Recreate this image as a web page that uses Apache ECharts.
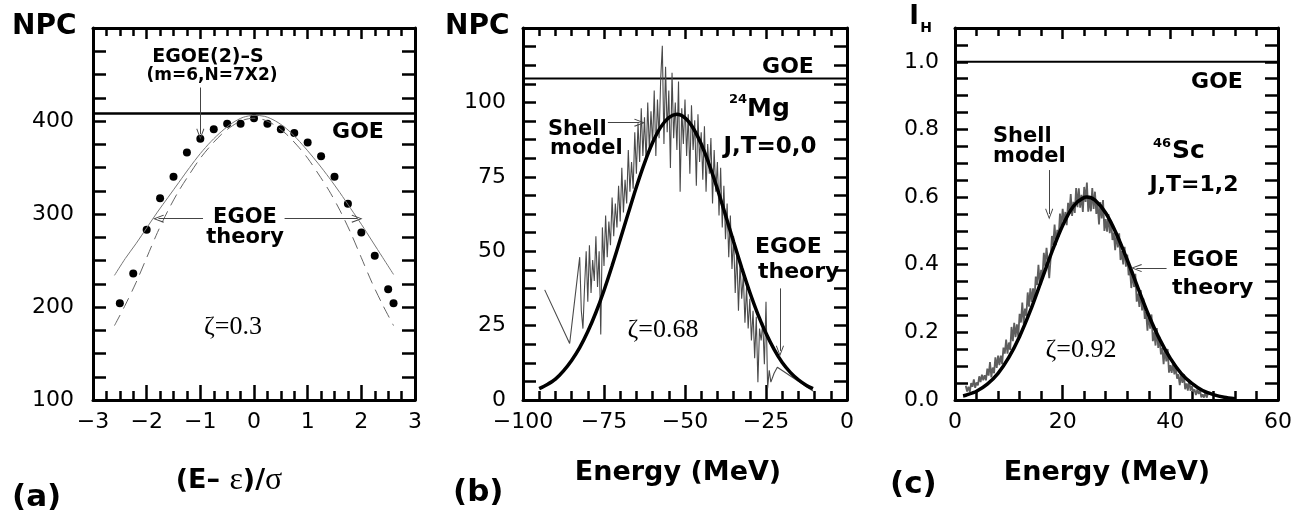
<!DOCTYPE html>
<html>
<head>
<meta charset="utf-8">
<script src="https://cdn.jsdelivr.net/npm/echarts@6/dist/echarts.min.js"></script>
<style>
  html, body { margin: 0; background: #fff; }
  #chart { width: 1309px; height: 518px; }
</style>
</head>
<body>
<div id="chart"></div>
<script>
// ---- panel (a): EGOE(2)-S, NPC vs (E-eps)/sigma
const aDotX = [-2.5, -2.25, -2, -1.75, -1.5, -1.25, -1, -0.75, -0.5, -0.25, 0, 0.25, 0.5, 0.75, 1, 1.25, 1.5, 1.75, 2, 2.25, 2.5, 2.6];
const aDotY = [204, 236, 283, 317, 340, 366, 381, 391, 397, 397, 403, 397, 391, 387, 377, 362, 340, 311, 280, 255, 219, 204];
const aCurveX = [-2.6, -2.4, -2.2, -2, -1.8, -1.6, -1.4, -1.2, -1, -0.8, -0.6, -0.4, -0.2, 0, 0.2, 0.4, 0.6, 0.8, 1, 1.2, 1.4, 1.6, 1.8, 2, 2.2, 2.4, 2.6];
const aSolidY = [234, 252, 268, 285, 302, 318, 334, 350, 365, 378, 389, 398, 404, 406, 405, 400, 392, 381, 368, 354, 339, 323, 306, 289, 271, 253, 235];
const aDashY = [180, 202, 226, 253, 280, 304, 325, 343, 360, 374, 386, 395, 401, 403, 401, 395, 386, 374, 360, 343, 325, 304, 280, 253, 226, 202, 180];
const aGoe = 408;

// ---- panel (b): 24Mg, NPC vs energy
const bTheoryX = [-95, -92.5, -90, -87.5, -85, -82.5, -80, -77.5, -75, -72.5, -70, -67.5, -65, -62.5, -60, -57.5, -55, -52.5, -50, -47.5, -45, -42.5, -40, -37.5, -35, -32.5, -30, -27.5, -25, -22.5, -20, -17.5, -15, -12.5, -10.5];
const bTheoryY = [3.8, 5.2, 7.0, 9.8, 13.3, 17.6, 23.0, 29.4, 36.8, 45.1, 53.9, 62.8, 71.6, 79.6, 86.5, 91.7, 94.9, 96.0, 94.8, 91.4, 86.0, 79.0, 70.9, 62.1, 53.2, 44.4, 36.2, 28.8, 22.4, 17.0, 12.6, 9.3, 6.8, 4.9, 3.8];
const bLeadX = [-93.3, -85.6, -82.5];
const bLeadY = [37, 19, 48];
const bShellStart = -82, bShellStep = 0.5;
const bShellY = [
  30, 24, 38, 50, 33, 52, 36, 47,
  40, 55, 38, 50, 22, 58, 45, 62,
  48, 60, 52, 68, 55, 66, 58, 72,
  60, 78, 63, 74, 66, 84, 70, 80,
  71, 90, 76, 93, 80, 98, 82, 95,
  80, 100, 84, 97, 86, 104, 82, 101,
  88, 108, 119, 86, 112, 90, 104, 78,
  110, 88, 100, 84, 107, 70, 98, 86,
  101, 82, 96, 76, 99, 84, 94, 72,
  96, 80, 90, 74, 92, 70, 86, 76,
  88, 66, 84, 70, 80, 62, 78, 58,
  72, 54, 66, 48, 62, 44, 55, 36,
  50, 30, 46, 34, 42, 26, 38, 24,
  34, 20, 30, 14, 28, 6, 24, 20,
  26, 12, 33, 4, 10
];
const bTailX = [-23.5, -22.5, -21.5, -10.5];
const bTailY = [6, 9, 11, 3];
const bGoe = 108;

// ---- panel (c): 46Sc, I_H vs energy
const cTheoryX = [1.5, 2, 4, 6, 8, 10, 12, 14, 16, 18, 20, 22, 24, 24.5, 26, 28, 30, 32, 34, 36, 38, 40, 42, 44, 46, 48, 50, 52];
const cTheoryY = [0.012, 0.014, 0.026, 0.047, 0.079, 0.126, 0.188, 0.264, 0.351, 0.438, 0.516, 0.573, 0.599, 0.600, 0.591, 0.553, 0.491, 0.414, 0.331, 0.250, 0.180, 0.123, 0.079, 0.049, 0.028, 0.016, 0.008, 0.004];
const cShellStart = 2, cShellStep = 0.25;
const cShellY = [
  0.042, 0.025, 0.039, 0.024, 0.050, 0.039, 0.061, 0.036,
  0.052, 0.043, 0.070, 0.053, 0.075, 0.058, 0.073, 0.058,
  0.093, 0.072, 0.112, 0.067, 0.096, 0.079, 0.126, 0.095,
  0.131, 0.103, 0.131, 0.106, 0.155, 0.137, 0.179, 0.137,
  0.170, 0.148, 0.216, 0.174, 0.228, 0.186, 0.224, 0.187,
  0.255, 0.229, 0.288, 0.226, 0.270, 0.249, 0.318, 0.276,
  0.330, 0.290, 0.330, 0.295, 0.365, 0.340, 0.400, 0.340,
  0.385, 0.365, 0.435, 0.395, 0.450, 0.410, 0.360, 0.415,
  0.485, 0.459, 0.519, 0.458, 0.503, 0.482, 0.551, 0.511,
  0.565, 0.521, 0.556, 0.517, 0.583, 0.553, 0.609, 0.544,
  0.586, 0.553, 0.627, 0.570, 0.626, 0.569, 0.607, 0.556,
  0.630, 0.586, 0.643, 0.557, 0.596, 0.558, 0.627, 0.565,
  0.616, 0.550, 0.580, 0.519, 0.585, 0.537, 0.591, 0.500,
  0.535, 0.498, 0.550, 0.493, 0.530, 0.473, 0.495, 0.443,
  0.495, 0.451, 0.493, 0.414, 0.440, 0.401, 0.453, 0.394,
  0.430, 0.369, 0.388, 0.331, 0.380, 0.334, 0.373, 0.291,
  0.315, 0.275, 0.325, 0.265, 0.300, 0.240, 0.260, 0.205,
  0.255, 0.211, 0.253, 0.174, 0.200, 0.161, 0.213, 0.154,
  0.187, 0.135, 0.154, 0.106, 0.153, 0.114, 0.151, 0.081,
  0.103, 0.080, 0.111, 0.076, 0.098, 0.063, 0.076, 0.044,
  0.075, 0.051, 0.077, 0.032, 0.049, 0.028, 0.060, 0.027,
  0.041, 0.024, 0.031, 0.015, 0.031, 0.018, 0.031, 0.008,
  0.017, 0.007, 0.023, 0.007, 0.019
];
const cGoe = 1.0;

const zip = (xs, ys) => xs.map((x, i) => [x, ys[i]]);
const steps = (x0, dx, ys) => ys.map((y, i) => [+(x0 + i * dx).toFixed(2), y]);

const SANS = '"DejaVu Sans", sans-serif';
const SERIF = '"Liberation Serif", "DejaVu Serif", serif';
const minus = v => (v < 0 ? '\u2212' + (-v) : String(v));
const chevron = 'path://M5,0L10,11L9,11.6L5,2.6L1,11.6L0,11Z';

const tick = (len) => ({ show: true, inside: true, length: len, lineStyle: { color: '#000', width: 2.5 } });
const minor = (n, len) => ({ show: true, splitNumber: n, length: len, lineStyle: { color: '#000', width: 2.5 } });
const line = { show: true, onZero: false, lineStyle: { color: '#000', width: 3 } };

function xPair(g, min, max, interval, split, fmt) {
  return [
    { type: 'value', gridIndex: g, position: 'bottom', min, max, interval,
      axisLine: line, axisTick: tick(15), minorTick: minor(split, 9), splitLine: { show: false },
      axisLabel: { color: '#000', fontFamily: SANS, fontSize: 22, margin: 11, formatter: fmt } },
    { type: 'value', gridIndex: g, position: 'top', min, max, interval,
      axisLine: line, axisTick: tick(11), minorTick: minor(split, 8), splitLine: { show: false },
      axisLabel: { show: false } }
  ];
}
function yPair(g, min, max, interval, split, fmt, margin) {
  return [
    { type: 'value', gridIndex: g, position: 'left', min, max, interval,
      axisLine: line, axisTick: tick(13), minorTick: minor(split, 13), splitLine: { show: false },
      axisLabel: { color: '#000', fontFamily: SANS, fontSize: 22, margin, showMaxLabel: false, formatter: fmt } },
    { type: 'value', gridIndex: g, position: 'right', min, max, interval,
      axisLine: line, axisTick: tick(13), minorTick: minor(split, 13), splitLine: { show: false },
      axisLabel: { show: false } }
  ];
}

function arrows(list) {
  return {
    silent: true, animation: false, symbol: ['none', chevron], symbolSize: [8, 11],
    lineStyle: { color: '#444', width: 1, type: 'solid' }, label: { show: false },
    data: list.map(a => [{ coord: a[0] }, { coord: a[1] }])
  };
}

function txt(x, y, text, font, align) {
  return { type: 'text', x, y, style: { text, font, fill: '#000',
    align: align || 'center', verticalAlign: 'middle',
    textAlign: align || 'center', textVerticalAlign: 'middle' } };
}
const B = (s) => 'bold ' + s + 'px ' + SANS;
const Z = (s) => s + 'px ' + SERIF;

const chart = echarts.init(document.getElementById('chart'));
chart.setOption({
  animation: false,
  backgroundColor: '#fff',
  grid: [
    { left: 93, top: 28, width: 322, height: 372, outerBoundsMode: 'none' },
    { left: 523, top: 28, width: 324, height: 372, outerBoundsMode: 'none' },
    { left: 955, top: 28, width: 323, height: 372, outerBoundsMode: 'none' }
  ],
  xAxis: [
    ...xPair(0, -3, 3, 1, 4, minus),
    ...xPair(1, -100, 0, 25, 5, minus),
    ...xPair(2, 0, 60, 20, 5, v => String(v))
  ],
  yAxis: [
    ...yPair(0, 100, 500, 100, 4, v => String(v), 19),
    ...yPair(1, 0, 125, 25, 4, v => String(v), 17),
    ...yPair(2, 0, 1.1, 0.1, 2, v => (Math.round(v * 10) % 2 === 0 ? v.toFixed(1) : ''), 16)
  ],
  series: [
    // (a)
    { type: 'line', xAxisIndex: 0, yAxisIndex: 0, data: [[-3, aGoe], [3, aGoe]], showSymbol: false,
      lineStyle: { color: '#000', width: 2.5 } },
    { type: 'line', xAxisIndex: 0, yAxisIndex: 0, data: zip(aCurveX, aSolidY), showSymbol: false, smooth: 0.3,
      lineStyle: { color: '#777', width: 1 },
      markLine: arrows([[[-1.0, 436], [-1.0, 386]], [[-0.95, 295], [-1.78, 295]], [[0.57, 295], [1.92, 295]]]) },
    { type: 'line', xAxisIndex: 0, yAxisIndex: 0, data: zip(aCurveX, aDashY), showSymbol: false, smooth: 0.3,
      lineStyle: { color: '#666', width: 1, type: [12, 7] } },
    { type: 'scatter', xAxisIndex: 0, yAxisIndex: 0, data: zip(aDotX, aDotY), symbolSize: 8,
      itemStyle: { color: '#000', opacity: 1 } },
    // (b)
    { type: 'line', xAxisIndex: 2, yAxisIndex: 2, data: [[-100, bGoe], [0, bGoe]], showSymbol: false,
      lineStyle: { color: '#000', width: 2 } },
    { type: 'line', xAxisIndex: 2, yAxisIndex: 2,
      data: [...zip(bLeadX, bLeadY), ...steps(bShellStart, bShellStep, bShellY), ...zip(bTailX, bTailY)],
      showSymbol: false, lineStyle: { color: '#4a4a4a', width: 1.1 },
      markLine: arrows([[[-73.8, 93.2], [-64.0, 93.2]], [[-20.7, 37.5], [-20.7, 16.5]]]) },
    { type: 'line', xAxisIndex: 2, yAxisIndex: 2, data: zip(bTheoryX, bTheoryY), showSymbol: false, smooth: 0.3,
      lineStyle: { color: '#000', width: 3.5 } },
    // (c)
    { type: 'line', xAxisIndex: 4, yAxisIndex: 4, data: [[0, cGoe], [60, cGoe]], showSymbol: false,
      lineStyle: { color: '#000', width: 2 } },
    { type: 'line', xAxisIndex: 4, yAxisIndex: 4, data: steps(cShellStart, cShellStep, cShellY),
      showSymbol: false, lineStyle: { color: '#5e5e5e', width: 1.8 },
      markLine: arrows([[[17.5, 0.68], [17.5, 0.55]], [[39.3, 0.39], [33.7, 0.39]]]) },
    { type: 'line', xAxisIndex: 4, yAxisIndex: 4, data: zip(cTheoryX, cTheoryY), showSymbol: false, smooth: 0.3,
      lineStyle: { color: '#000', width: 3.5 } }
  ],
  graphic: [
    // (a)
    txt(12, 27, 'NPC', B(28), 'left'),
    txt(208, 57, 'EGOE(2)\u2013S', B(19)),
    txt(212, 76, '(m=6,N=7X2)', B(17)),
    txt(358, 132, 'GOE', B(22)),
    txt(245, 218, 'EGOE', B(21)),
    txt(245, 238, 'theory', B(21)),
    txt(233, 327, '\u03b6=0.3', Z(26)),
    { type: 'text', x: 229, y: 481, style: {
        text: '{b|(E\u2013 }{g|\u03b5}{b|)/}{g|\u03c3}', align: 'center', verticalAlign: 'middle',
        textAlign: 'center', textVerticalAlign: 'middle',
        rich: { b: { font: B(27), fill: '#000' }, g: { font: Z(32), fill: '#000' } } } },
    txt(12, 498, '(a)', B(31), 'left'),
    // (b)
    txt(445, 27, 'NPC', B(28), 'left'),
    txt(788, 67, 'GOE', B(22)),
    txt(738, 100, '24', B(13)),
    txt(747, 109, 'Mg', B(25), 'left'),
    txt(770, 147, 'J,T=0,0', B(23)),
    txt(548, 130, 'Shell', B(21), 'left'),
    txt(550, 149, 'model', B(21), 'left'),
    txt(755, 247, 'EGOE', B(22), 'left'),
    txt(758, 272, 'theory', B(22), 'left'),
    txt(663, 330, '\u03b6=0.68', Z(26)),
    txt(678, 473, 'Energy (MeV)', B(27)),
    txt(453, 493, '(b)', B(31), 'left'),
    // (c)
    txt(914, 17, 'I', B(26)),
    txt(926, 28, 'H', B(14)),
    txt(1217, 82, 'GOE', B(22)),
    txt(1162, 144, '46', B(13)),
    txt(1172, 151, 'Sc', B(25), 'left'),
    txt(1194, 185, 'J,T=1,2', B(22)),
    txt(993, 137, 'Shell', B(21), 'left'),
    txt(993, 157, 'model', B(21), 'left'),
    txt(1172, 260, 'EGOE', B(22), 'left'),
    txt(1172, 288, 'theory', B(22), 'left'),
    txt(1081, 350, '\u03b6=0.92', Z(26)),
    txt(1107, 473, 'Energy (MeV)', B(27)),
    txt(890, 485, '(c)', B(31), 'left')
  ]
});
</script>
</body>
</html>
